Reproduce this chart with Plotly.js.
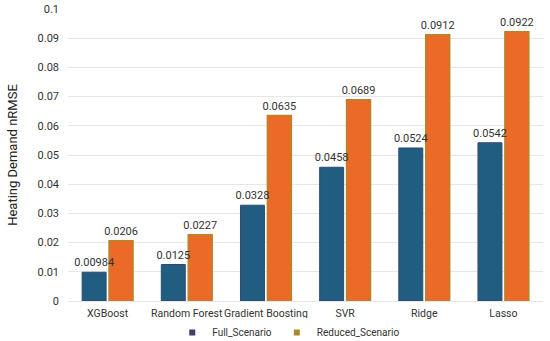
<!DOCTYPE html>
<html><head><meta charset="utf-8">
<script src="https://cdn.plot.ly/plotly-3.0.1.min.js"></script>
<style>html,body{margin:0;padding:0;background:#fff}#c{width:550px;height:341px}</style>
</head><body><div id="c"></div>
<script>
const categories = ["XGBoost","Random Forest","Gradient Boosting","SVR","Ridge","Lasso"];
const fullScenario = [0.00984,0.0125,0.0328,0.0458,0.0524,0.0542];
const reducedScenario = [0.0206,0.0227,0.0635,0.0689,0.0912,0.0922];
const yTicks = [0,0.01,0.02,0.03,0.04,0.05,0.06,0.07,0.08,0.09,0.1];
const seriesNames = ["Full_Scenario","Reduced_Scenario"];

const font = {family:"Roboto, Open Sans, sans-serif", size:11, color:"#333"};
function bars(name, vals, group, color, line, lw) {
  return {type:"bar", name:name, x:categories, y:vals, showlegend:false, offsetgroup:group,
          marker:{color:color, line:{color:line, width:lw}}, hoverinfo:"skip"};
}
function labels(name, vals, group) {
  return {type:"bar", name:name, x:categories, y:vals, showlegend:false, offsetgroup:group,
          text:vals.map(String), textposition:"outside", cliponaxis:false, constraintext:"none",
          textfont:{size:11,color:"#333"},
          marker:{color:"rgba(0,0,0,0)", line:{width:0}}};
}
const data = [
  bars(seriesNames[0], fullScenario, "a", "#215d81", "#2f4a72", 1),
  bars(seriesNames[1], reducedScenario, "b", "#eb6a28", "#b3862c", 1.5),
  labels(seriesNames[0], fullScenario, "a"),
  labels(seriesNames[1], reducedScenario, "b"),
  {type:"scatter", mode:"markers", name:seriesNames[0], x:[null], y:[null],
   marker:{symbol:"square", size:6, color:"#3f3f70"}},
  {type:"scatter", mode:"markers", name:seriesNames[1], x:[null], y:[null],
   marker:{symbol:"square", size:6, color:"#a8892c"}}
];
const layout = {
  width:550, height:341, margin:{l:68,r:7,t:9,b:40},
  font:font, paper_bgcolor:"#fff", plot_bgcolor:"#fff",
  barmode:"group", bargap:0.32, bargroupgap:0.11,
  showlegend:true,
  legend:{orientation:"h", x:0.525, xanchor:"center", xref:"container",
          y:0.025, yanchor:"middle", yref:"container",
          font:{size:10,color:"#333"}, itemwidth:30, tracegroupgap:0},
  xaxis:{type:"category", tickfont:{size:10.5,color:"#333"}, tickangle:0, showline:false,
         ticks:"", ticklabelstandoff:4, automargin:false},
  yaxis:{range:[0,0.1], tickvals:yTicks, ticktext:yTicks.map(String),
         gridcolor:"#e6e6ec", gridwidth:1, zeroline:true, zerolinecolor:"#e6e6ec",
         tickfont:{size:11,color:"#333"}, ticks:"", ticklen:0, ticklabelstandoff:8,
         title:{text:"Heating Demand nRMSE", font:{size:13,color:"#222"}, standoff:16},
         automargin:false}
};
Plotly.newPlot("c", data, layout, {displayModeBar:false, staticPlot:true});
</script></body></html>
